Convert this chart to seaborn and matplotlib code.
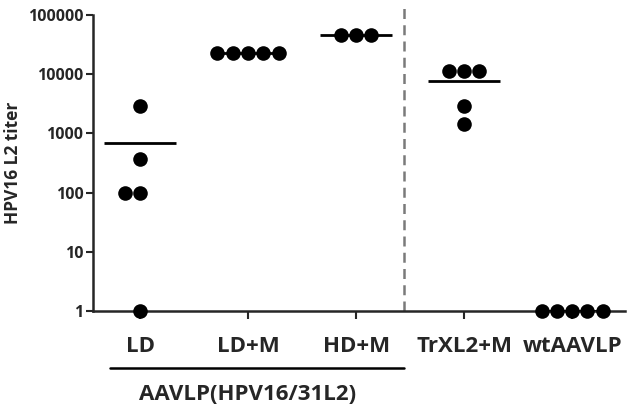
import numpy as np
import pandas as pd
import seaborn as sns
import matplotlib.pyplot as plt

# values (log-scaled titers)
groups = ['LD', 'LD+M', 'HD+M', 'TrXL2+M', 'wtAAVLP']
ld = [2900, 370, 100, 100, 1]
ld_m = [22500, 22500, 22500, 22500, 22500]
hd_m = [46000, 46000, 46000]
trxl2_m = [11500, 11500, 11500, 2900, 1450]
wt = [1, 1, 1, 1, 1]
yticks = [1, 10, 100, 1000, 10000, 100000]

values = [ld, ld_m, hd_m, trxl2_m, wt]
df = pd.DataFrame({
    'group': [g for g, v in zip(groups, values) for _ in v],
    'titer': [x for v in values for x in v],
})
means = [np.mean(v) for v in values]

sns.set_style('ticks')
plt.rcParams['font.family'] = ['Open Sans', 'DejaVu Sans']
plt.rcParams['font.weight'] = 'bold'

fig = plt.figure(figsize=(6.34, 4.08), dpi=100)
ax = fig.add_axes([0.1467, 0.2377, 0.986 - 0.1467, 0.963 - 0.2377])

sns.swarmplot(data=df, x='group', y='titer', order=groups, color='black',
              size=10.5, linewidth=0, log_scale=True, clip_on=False,
              zorder=5, ax=ax)

# mean bars
ax.hlines(means, np.arange(len(groups)) - 0.33, np.arange(len(groups)) + 0.33,
          color='black', lw=2, zorder=4)

# separator
ax.axvline(2.44, ymin=0, ymax=1.024, color='#7a7a7a', lw=1.8,
           ls=(0, (4, 2.5)), clip_on=False, zorder=1)

ax.set_xlim(-0.435, 4.49)
ax.set_ylim(1, 100000)
ax.set_yticks(yticks)
ax.set_yticklabels([str(t) for t in yticks], fontsize=11.5, fontweight='bold')
ax.minorticks_off()
ax.set_xticks(range(len(groups)))
ax.set_xticklabels(groups, fontsize=16, fontweight='bold')
ax.tick_params(axis='x', length=6, width=1.5, pad=12)
ax.tick_params(axis='y', length=5, width=1.5, pad=2)
ax.set_xlabel('')
ax.set_ylabel('HPV16 L2 titer', fontsize=12.5, fontweight='bold', labelpad=4)

for s in ['top', 'right']:
    ax.spines[s].set_visible(False)
for s in ['left', 'bottom']:
    ax.spines[s].set_linewidth(1.8)

# group bracket under the first three categories
ax.plot([-0.28, 2.44], [-0.193, -0.193], transform=ax.get_xaxis_transform(),
        color='black', lw=1.8, clip_on=False)
ax.text(1.0, -0.283, 'AAVLP(HPV16/31L2)', transform=ax.get_xaxis_transform(),
        ha='center', va='center', fontsize=16, fontweight='bold')

fig.savefig('out.png', dpi=100)
